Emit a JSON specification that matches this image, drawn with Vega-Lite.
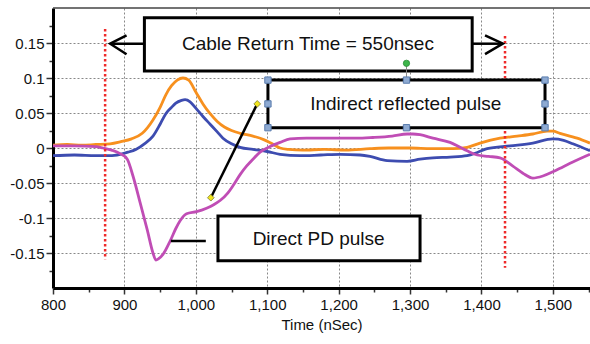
{
  "$schema": "https://vega.github.io/schema/vega-lite/v6.json",
  "width": 537,
  "height": 280,
  "autosize": {"type": "none"},
  "padding": {"left": 53, "top": 8, "right": 0, "bottom": 56},
  "background": "white",
  "config": {"view": {"stroke": null}, "font": "Liberation Sans"},
  "encoding": {
    "x": {
      "field": "t", "type": "quantitative",
      "scale": {"domain": [800, 1552], "nice": false, "zero": false},
      "axis": {
        "title": "Time (nSec)", "titleFontSize": 15, "titleFontWeight": "normal", "titleColor": "#111", "titlePadding": 5,
        "values": [800, 850, 900, 950, 1000, 1050, 1100, 1150, 1200, 1250, 1300, 1350, 1400, 1450, 1500, 1550],
        "labelExpr": "datum.value % 100 == 0 ? format(datum.value, ',') : ''",
        "labelFontSize": 15, "labelColor": "#111", "labelPadding": 3, "labelFlush": false,
        "domainColor": "black", "domainWidth": 3,
        "tickColor": "#333", "tickWidth": 1.5,
        "tickSize": {"condition": {"test": "datum.value % 100 == 0", "value": 6}, "value": 4},
        "grid": true, "gridColor": "#888", "gridDash": [2, 2], "gridWidth": 1,
        "gridOpacity": {"condition": {"test": "datum.value % 100 == 0", "value": 1}, "value": 0}
      }
    },
    "y": {
      "field": "v", "type": "quantitative",
      "scale": {"domain": [-0.2, 0.2], "nice": false, "zero": false},
      "axis": {
        "title": null,
        "values": [-0.175, -0.15, -0.125, -0.1, -0.075, -0.05, -0.025, 0, 0.025, 0.05, 0.075, 0.1, 0.125, 0.15, 0.175],
        "labelExpr": "round(datum.value*1000) % 50 == 0 ? '' + (round(datum.value*1000)/1000) : ''",
        "labelFontSize": 15, "labelColor": "#111", "labelPadding": 2,
        "domainColor": "black", "domainWidth": 3,
        "tickColor": "#333", "tickWidth": 1.5,
        "tickSize": {"condition": {"test": "round(datum.value*1000) % 50 == 0", "value": 7}, "value": 4},
        "grid": true, "gridColor": "#888", "gridDash": [2, 2], "gridWidth": 1,
        "gridOpacity": {"condition": {"test": "round(datum.value*1000) % 50 == 0", "value": 1}, "value": 0}
      }
    }
  },
  "layer": [
    {
      "data": {"values": [{"t": 800, "t2": 1552, "v": 0.2}]},
      "mark": {"type": "rule", "color": "#444", "strokeWidth": 1.5},
      "encoding": {"x2": {"field": "t2"}}
    },
    {
      "data": {"values": [
        {"s": "orange", "t": 800, "v": 0.004}, {"s": "orange", "t": 820, "v": 0.005}, {"s": "orange", "t": 840, "v": 0.004}, {"s": "orange", "t": 860, "v": 0.005},
        {"s": "orange", "t": 880, "v": 0.006}, {"s": "orange", "t": 895, "v": 0.009}, {"s": "orange", "t": 910, "v": 0.013}, {"s": "orange", "t": 925, "v": 0.021},
        {"s": "orange", "t": 940, "v": 0.040}, {"s": "orange", "t": 950, "v": 0.058}, {"s": "orange", "t": 958, "v": 0.076}, {"s": "orange", "t": 966, "v": 0.089},
        {"s": "orange", "t": 974, "v": 0.097}, {"s": "orange", "t": 982, "v": 0.100}, {"s": "orange", "t": 990, "v": 0.097}, {"s": "orange", "t": 1000, "v": 0.080},
        {"s": "orange", "t": 1010, "v": 0.063}, {"s": "orange", "t": 1020, "v": 0.049}, {"s": "orange", "t": 1030, "v": 0.038}, {"s": "orange", "t": 1040, "v": 0.030},
        {"s": "orange", "t": 1050, "v": 0.025}, {"s": "orange", "t": 1062, "v": 0.021}, {"s": "orange", "t": 1080, "v": 0.017}, {"s": "orange", "t": 1095, "v": 0.012},
        {"s": "orange", "t": 1105, "v": 0.007}, {"s": "orange", "t": 1118, "v": 0.000}, {"s": "orange", "t": 1130, "v": -0.002}, {"s": "orange", "t": 1150, "v": -0.003},
        {"s": "orange", "t": 1180, "v": -0.002}, {"s": "orange", "t": 1210, "v": -0.003}, {"s": "orange", "t": 1244, "v": -0.001}, {"s": "orange", "t": 1270, "v": 0.000},
        {"s": "orange", "t": 1300, "v": 0.000}, {"s": "orange", "t": 1330, "v": -0.001}, {"s": "orange", "t": 1360, "v": -0.001}, {"s": "orange", "t": 1380, "v": 0.001},
        {"s": "orange", "t": 1398, "v": 0.007}, {"s": "orange", "t": 1426, "v": 0.014}, {"s": "orange", "t": 1450, "v": 0.017}, {"s": "orange", "t": 1472, "v": 0.020},
        {"s": "orange", "t": 1492, "v": 0.024}, {"s": "orange", "t": 1500, "v": 0.024}, {"s": "orange", "t": 1510, "v": 0.021}, {"s": "orange", "t": 1534, "v": 0.014},
        {"s": "orange", "t": 1552, "v": 0.007},
        {"s": "blue", "t": 800, "v": -0.011}, {"s": "blue", "t": 830, "v": -0.010}, {"s": "blue", "t": 860, "v": -0.011}, {"s": "blue", "t": 880, "v": -0.011},
        {"s": "blue", "t": 894, "v": -0.009}, {"s": "blue", "t": 905, "v": -0.006}, {"s": "blue", "t": 916, "v": -0.002}, {"s": "blue", "t": 928, "v": 0.006},
        {"s": "blue", "t": 940, "v": 0.017}, {"s": "blue", "t": 950, "v": 0.034}, {"s": "blue", "t": 958, "v": 0.049}, {"s": "blue", "t": 966, "v": 0.058},
        {"s": "blue", "t": 972, "v": 0.064}, {"s": "blue", "t": 980, "v": 0.068}, {"s": "blue", "t": 985, "v": 0.069}, {"s": "blue", "t": 992, "v": 0.066},
        {"s": "blue", "t": 1000, "v": 0.057}, {"s": "blue", "t": 1010, "v": 0.045}, {"s": "blue", "t": 1020, "v": 0.034}, {"s": "blue", "t": 1030, "v": 0.023},
        {"s": "blue", "t": 1038, "v": 0.014}, {"s": "blue", "t": 1050, "v": 0.006}, {"s": "blue", "t": 1062, "v": 0.001}, {"s": "blue", "t": 1080, "v": -0.002},
        {"s": "blue", "t": 1100, "v": -0.005}, {"s": "blue", "t": 1118, "v": -0.009}, {"s": "blue", "t": 1146, "v": -0.011}, {"s": "blue", "t": 1175, "v": -0.010},
        {"s": "blue", "t": 1202, "v": -0.009}, {"s": "blue", "t": 1230, "v": -0.010}, {"s": "blue", "t": 1244, "v": -0.012}, {"s": "blue", "t": 1268, "v": -0.018},
        {"s": "blue", "t": 1296, "v": -0.019}, {"s": "blue", "t": 1314, "v": -0.016}, {"s": "blue", "t": 1332, "v": -0.014}, {"s": "blue", "t": 1356, "v": -0.013},
        {"s": "blue", "t": 1380, "v": -0.011}, {"s": "blue", "t": 1395, "v": -0.006}, {"s": "blue", "t": 1408, "v": -0.001}, {"s": "blue", "t": 1440, "v": 0.003},
        {"s": "blue", "t": 1472, "v": 0.007}, {"s": "blue", "t": 1500, "v": 0.013}, {"s": "blue", "t": 1515, "v": 0.011}, {"s": "blue", "t": 1528, "v": 0.006},
        {"s": "blue", "t": 1552, "v": -0.004},
        {"s": "magenta", "t": 800, "v": 0.003}, {"s": "magenta", "t": 830, "v": 0.003}, {"s": "magenta", "t": 860, "v": 0.002}, {"s": "magenta", "t": 870, "v": 0.000},
        {"s": "magenta", "t": 882, "v": -0.003}, {"s": "magenta", "t": 894, "v": -0.008}, {"s": "magenta", "t": 904, "v": -0.016}, {"s": "magenta", "t": 912, "v": -0.040},
        {"s": "magenta", "t": 922, "v": -0.078}, {"s": "magenta", "t": 932, "v": -0.117}, {"s": "magenta", "t": 940, "v": -0.150}, {"s": "magenta", "t": 944, "v": -0.160},
        {"s": "magenta", "t": 948, "v": -0.158}, {"s": "magenta", "t": 954, "v": -0.152}, {"s": "magenta", "t": 964, "v": -0.133}, {"s": "magenta", "t": 972, "v": -0.115},
        {"s": "magenta", "t": 978, "v": -0.104}, {"s": "magenta", "t": 987, "v": -0.094}, {"s": "magenta", "t": 1001, "v": -0.091}, {"s": "magenta", "t": 1015, "v": -0.086},
        {"s": "magenta", "t": 1025, "v": -0.081}, {"s": "magenta", "t": 1034, "v": -0.075}, {"s": "magenta", "t": 1045, "v": -0.064}, {"s": "magenta", "t": 1052, "v": -0.054},
        {"s": "magenta", "t": 1062, "v": -0.038}, {"s": "magenta", "t": 1071, "v": -0.026}, {"s": "magenta", "t": 1080, "v": -0.016}, {"s": "magenta", "t": 1090, "v": -0.006},
        {"s": "magenta", "t": 1104, "v": 0.002}, {"s": "magenta", "t": 1118, "v": 0.008}, {"s": "magenta", "t": 1132, "v": 0.013}, {"s": "magenta", "t": 1155, "v": 0.014},
        {"s": "magenta", "t": 1180, "v": 0.014}, {"s": "magenta", "t": 1202, "v": 0.014}, {"s": "magenta", "t": 1225, "v": 0.014}, {"s": "magenta", "t": 1248, "v": 0.015},
        {"s": "magenta", "t": 1275, "v": 0.017}, {"s": "magenta", "t": 1296, "v": 0.020}, {"s": "magenta", "t": 1304, "v": 0.020}, {"s": "magenta", "t": 1314, "v": 0.019},
        {"s": "magenta", "t": 1332, "v": 0.014}, {"s": "magenta", "t": 1356, "v": 0.008}, {"s": "magenta", "t": 1370, "v": 0.001}, {"s": "magenta", "t": 1380, "v": -0.004},
        {"s": "magenta", "t": 1394, "v": -0.010}, {"s": "magenta", "t": 1410, "v": -0.012}, {"s": "magenta", "t": 1426, "v": -0.014}, {"s": "magenta", "t": 1444, "v": -0.026},
        {"s": "magenta", "t": 1458, "v": -0.036}, {"s": "magenta", "t": 1472, "v": -0.043}, {"s": "magenta", "t": 1486, "v": -0.040}, {"s": "magenta", "t": 1500, "v": -0.034},
        {"s": "magenta", "t": 1514, "v": -0.027}, {"s": "magenta", "t": 1528, "v": -0.020}, {"s": "magenta", "t": 1552, "v": -0.009}
      ]},
      "mark": {"type": "line", "strokeWidth": 2.8, "interpolate": "monotone", "clip": true},
      "encoding": {
        "color": {"field": "s", "type": "nominal", "legend": null,
          "scale": {"domain": ["orange", "blue", "magenta"], "range": ["#F7901E", "#3D4CB0", "#C04DB5"]}}
      }
    },
    {
      "data": {"values": [{"t": 873, "v": 0.17, "v2": -0.159}, {"t": 1433, "v": 0.16, "v2": -0.171}]},
      "mark": {"type": "rule", "color": "#EE2A2A", "strokeWidth": 2.5, "strokeDash": [2.5, 2.5]},
      "encoding": {"y2": {"field": "v2"}}
    },
    {
      "data": {"values": [
        {"t": 928, "t2": 1387, "v": 0.186, "v2": 0.11},
        {"t": 1101, "t2": 1489, "v": 0.097, "v2": 0.029},
        {"t": 1031, "t2": 1314, "v": -0.097, "v2": -0.161}
      ]},
      "mark": {"type": "rect", "fill": "white", "stroke": "black", "strokeWidth": 3},
      "encoding": {"x2": {"field": "t2"}, "y2": {"field": "v2"}}
    },
    {
      "data": {"values": [
        {"t": 1157, "v": 0.149, "label": "Cable Return Time = 550nsec"},
        {"t": 1294, "v": 0.063, "label": "Indirect reflected pulse"},
        {"t": 1172, "v": -0.13, "label": "Direct PD pulse"}
      ]},
      "mark": {"type": "text", "fontSize": 19, "color": "#111", "align": "center", "baseline": "middle"},
      "encoding": {"text": {"field": "label"}}
    },
    {
      "data": {"values": [
        {"g": "arrowL_shaft", "o": 1, "t": 928, "v": 0.149}, {"g": "arrowL_shaft", "o": 2, "t": 881, "v": 0.149},
        {"g": "arrowL_head", "o": 1, "t": 903, "v": 0.161}, {"g": "arrowL_head", "o": 2, "t": 880, "v": 0.149}, {"g": "arrowL_head", "o": 3, "t": 903, "v": 0.134},
        {"g": "arrowR_shaft", "o": 1, "t": 1387, "v": 0.149}, {"g": "arrowR_shaft", "o": 2, "t": 1429, "v": 0.149},
        {"g": "arrowR_head", "o": 1, "t": 1405, "v": 0.161}, {"g": "arrowR_head", "o": 2, "t": 1430, "v": 0.149}, {"g": "arrowR_head", "o": 3, "t": 1405, "v": 0.134},
        {"g": "direct", "o": 1, "t": 965, "v": -0.133}, {"g": "direct", "o": 2, "t": 1014, "v": -0.133},
        {"g": "diag", "o": 1, "t": 1021, "v": -0.071}, {"g": "diag", "o": 2, "t": 1086, "v": 0.063}
      ]},
      "mark": {"type": "line", "color": "black", "strokeWidth": 2.5},
      "encoding": {"detail": {"field": "g"}, "order": {"field": "o"}}
    },
    {
      "data": {"values": [{"t": 1295, "v": 0.121, "t2": 1295, "v2": 0.097}]},
      "mark": {"type": "rule", "color": "#888", "strokeWidth": 1},
      "encoding": {"y2": {"field": "v2"}}
    },
    {
      "data": {"values": [{"t": 1021, "v": -0.071}, {"t": 1086, "v": 0.063}]},
      "mark": {"type": "point", "shape": "diamond", "filled": true, "fill": "#F2E51E", "stroke": "#7a7a30", "strokeWidth": 0.8, "size": 45, "opacity": 1}
    },
    {
      "data": {"values": [
        {"t": 1101, "v": 0.097}, {"t": 1295, "v": 0.097}, {"t": 1489, "v": 0.097},
        {"t": 1101, "v": 0.063}, {"t": 1489, "v": 0.063},
        {"t": 1101, "v": 0.029}, {"t": 1295, "v": 0.029}, {"t": 1489, "v": 0.029}
      ]},
      "mark": {"type": "point", "shape": "square", "filled": true, "fill": "#8EAAD2", "stroke": "#5B7DAE", "strokeWidth": 1, "size": 40, "opacity": 1}
    },
    {
      "data": {"values": [{"t": 1295, "v": 0.121}]},
      "mark": {"type": "point", "shape": "circle", "filled": true, "fill": "#3DB54A", "stroke": "#2a8a35", "strokeWidth": 0.8, "size": 40, "opacity": 1}
    }
  ]
}
